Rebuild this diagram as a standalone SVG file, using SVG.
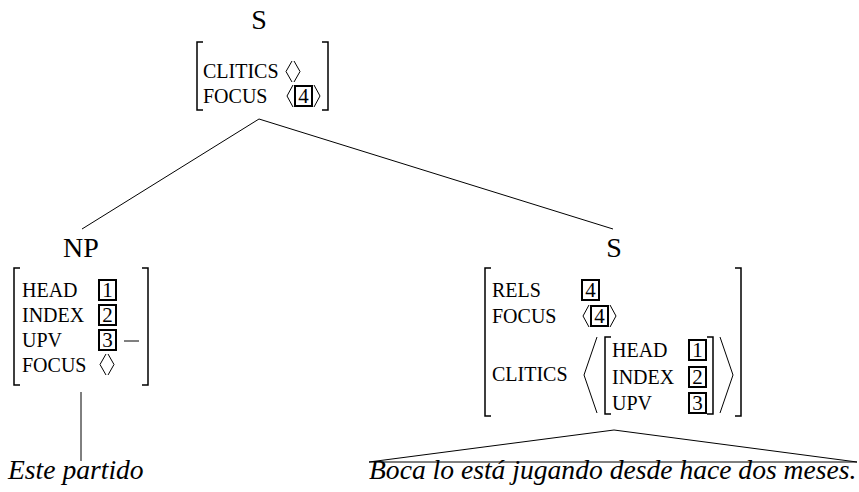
<svg xmlns="http://www.w3.org/2000/svg" width="859" height="492" viewBox="0 0 859 492">
<style>
.lab{font-family:"Liberation Serif","Times New Roman",serif;font-size:28px;fill:#000;text-anchor:middle}
.sc{font-family:"Liberation Serif","Times New Roman",serif;font-size:20px;fill:#000}
.dg{font-family:"Liberation Serif","Times New Roman",serif;font-size:21px;fill:#000;text-anchor:middle}
.it{font-family:"Liberation Serif","Times New Roman",serif;font-size:27.6px;font-style:italic;fill:#000}
.br{fill:none;stroke:#000;stroke-width:1.5}
.ab{fill:none;stroke:#000;stroke-width:1}
.bx{fill:none;stroke:#000;stroke-width:2}
.ln{fill:none;stroke:#000;stroke-width:1}
</style>
<g id="connectors">
<line class="ln" x1="259" y1="119" x2="82" y2="229"/>
<line class="ln" x1="259" y1="119" x2="613" y2="229"/>
<line class="ln" x1="81" y1="392" x2="81" y2="461"/>
<polyline class="ln" points="369,462 614,430 857,462"/>
<line class="ln" x1="369" y1="462" x2="857" y2="462"/>
</g>
<g id="node-top">
<text class="lab" x="259" y="29">S</text>
<polyline class="br" points="203,42 197,42 197,110 203,110"/>
<polyline class="br" points="322,42 328,42 328,110 322,110"/>
<text class="sc" x="203" y="78">CLITICS</text>
<polyline class="ab" points="292,61 286,71.5 292,82"/>
<polyline class="ab" points="294,61 300,71.5 294,82"/>
<text class="sc" x="203" y="103">FOCUS</text>
<polyline class="ab" points="293,85 287,96 293,107"/>
<rect class="bx" x="295" y="86" width="17" height="20"/>
<text class="dg" x="303.5" y="103">4</text>
<polyline class="ab" points="314,85 320,96 314,107"/>
</g>
<g id="node-np">
<text class="lab" x="81" y="257">NP</text>
<polyline class="br" points="20,268 14,268 14,385 20,385"/>
<polyline class="br" points="142,268 148,268 148,385 142,385"/>
<text class="sc" x="22" y="297">HEAD</text>
<rect class="bx" x="99" y="280" width="17" height="20"/>
<text class="dg" x="107.5" y="297">1</text>
<text class="sc" x="22" y="322">INDEX</text>
<rect class="bx" x="99" y="305" width="17" height="20"/>
<text class="dg" x="107.5" y="322">2</text>
<text class="sc" x="22" y="347">UPV</text>
<rect class="bx" x="99" y="330" width="17" height="20"/>
<text class="dg" x="107.5" y="347">3</text>
<line class="ab" x1="124" y1="341" x2="139" y2="341"/>
<text class="sc" x="22" y="372">FOCUS</text>
<polyline class="ab" points="106,354 100,364.5 106,375"/>
<polyline class="ab" points="108,354 114,364.5 108,375"/>
</g>
<g id="node-s">
<text class="lab" x="614" y="257">S</text>
<polyline class="br" points="491,268 485,268 485,416 491,416"/>
<polyline class="br" points="735,268 741,268 741,416 735,416"/>
<text class="sc" x="492" y="297">RELS</text>
<rect class="bx" x="582" y="280" width="17" height="20"/>
<text class="dg" x="590.5" y="297">4</text>
<text class="sc" x="492" y="323">FOCUS</text>
<polyline class="ab" points="589,305 583,316 589,327"/>
<rect class="bx" x="591" y="306" width="17" height="20"/>
<text class="dg" x="599.5" y="323">4</text>
<polyline class="ab" points="610,305 616,316 610,327"/>
<text class="sc" x="492" y="381">CLITICS</text>
<polyline class="ab" points="597,337 584,375 597,413"/>
<polyline class="br" points="611,337 605,337 605,414 611,414"/>
<text class="sc" x="612" y="357">HEAD</text>
<rect class="bx" x="689" y="340" width="17" height="20"/>
<text class="dg" x="697.5" y="357">1</text>
<text class="sc" x="612" y="384">INDEX</text>
<rect class="bx" x="689" y="367" width="17" height="20"/>
<text class="dg" x="697.5" y="384">2</text>
<text class="sc" x="612" y="410">UPV</text>
<rect class="bx" x="689" y="393" width="17" height="20"/>
<text class="dg" x="697.5" y="410">3</text>
<polyline class="br" points="707,337 713,337 713,414 707,414"/>
<polyline class="ab" points="720,337 733,375 720,413"/>
</g>
<g id="leaf-np">
<text class="it" x="8" y="479">Este partido</text>
</g>
<g id="leaf-s">
<text class="it" x="369" y="479">Boca lo está jugando desde hace dos meses.</text>
</g>
</svg>
